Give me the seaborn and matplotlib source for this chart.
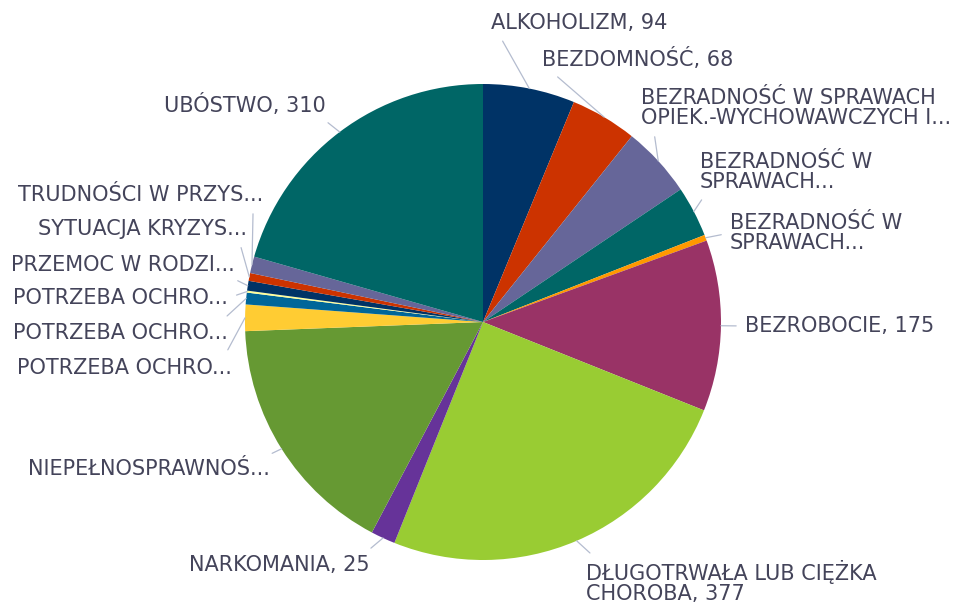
import matplotlib
matplotlib.use("Agg")
import numpy as np
import matplotlib.pyplot as plt
import seaborn as sns

# --- Data (clockwise from 12 o'clock) ---
labels = [
    "ALKOHOLIZM, 94",
    "BEZDOMNOŚĆ, 68",
    "BEZRADNOŚĆ W SPRAWACH\nOPIEK.-WYCHOWAWCZYCH I...",
    "BEZRADNOŚĆ W\nSPRAWACH...",
    "BEZRADNOŚĆ W\nSPRAWACH...",
    "BEZROBOCIE, 175",
    "DŁUGOTRWAŁA LUB CIĘŻKA\nCHOROBA, 377",
    "NARKOMANIA, 25",
    "NIEPEŁNOSPRAWNOŚ...",
    "POTRZEBA OCHRO...",
    "POTRZEBA OCHRO...",
    "POTRZEBA OCHRO...",
    "PRZEMOC W RODZI...",
    "SYTUACJA KRYZYS...",
    "TRUDNOŚCI W PRZYS...",
    "UBÓSTWO, 310",
]
values = [94, 68, 73, 52, 6, 175, 377, 25, 251, 27, 12, 2, 10, 8, 17, 310]

palette = ["#003366", "#cc3300", "#666699", "#006666", "#ff9900", "#993366",
           "#99cc33", "#663399", "#669933", "#ffcc33", "#006699", "#ffff99"]
colors = [palette[i % len(palette)] for i in range(len(values))]

# --- Layout (pixels, origin top-left) ---
W, H = 970, 604
cx, cy, r = 483, 322, 238
# label anchor (x, y, side); "L" = text starts at anchor, "R" = text ends at anchor
label_pos = [
    (491, 23, "L"), (542, 59, "L"), (641, 108, "L"), (700, 172, "L"),
    (730, 233, "L"), (745, 326, "L"), (586, 582, "L"), (370, 565, "R"),
    (270, 469, "R"), (232, 368, "R"), (228, 333, "R"), (228, 298, "R"),
    (235, 265, "R"), (247, 229, "R"), (263, 195, "R"), (326, 105, "R"),
]

sns.set_theme(style="white")
plt.rcParams["font.family"] = ["DejaVu Sans"]

fig = plt.figure(figsize=(W / 100, H / 100), dpi=100)
ax = fig.add_axes([0, 0, 1, 1])

wedges, _ = ax.pie(
    values,
    colors=colors,
    startangle=90,
    counterclock=False,
    radius=r,
    center=(cx, H - cy),
    wedgeprops=dict(linewidth=0),
)

text_color = "#44445a"
line_color = "#b4bccf"
for w, lab, (lx, ly, side) in zip(wedges, labels, label_pos):
    mid = np.deg2rad((w.theta1 + w.theta2) / 2)
    ex = cx + r * np.cos(mid)
    ey = (H - cy) + r * np.sin(mid)
    ty = H - ly
    # where the leader line leaves the label
    if ty - ey > 15:
        ry = 0.0
    elif ey - ty > 15:
        ry = 1.0
    else:
        ry = 0.5
    if side == "L":
        ha, rx = "left", (0.0 if ry == 0.5 else 0.04)
    else:
        ha, rx = "right", (1.0 if ry == 0.5 else 0.96)
    ax.annotate(
        lab,
        xy=(ex, ey),
        xytext=(lx, ty),
        ha=ha,
        va="center",
        fontsize=15,
        color=text_color,
        linespacing=1.0,
        arrowprops=dict(arrowstyle="-", color=line_color, lw=0.9,
                        relpos=(rx, ry), shrinkA=4, shrinkB=0),
    )

ax.set_xlim(0, W)
ax.set_ylim(0, H)
ax.set_aspect("equal")
ax.axis("off")

fig.savefig("out.png", dpi=100)
